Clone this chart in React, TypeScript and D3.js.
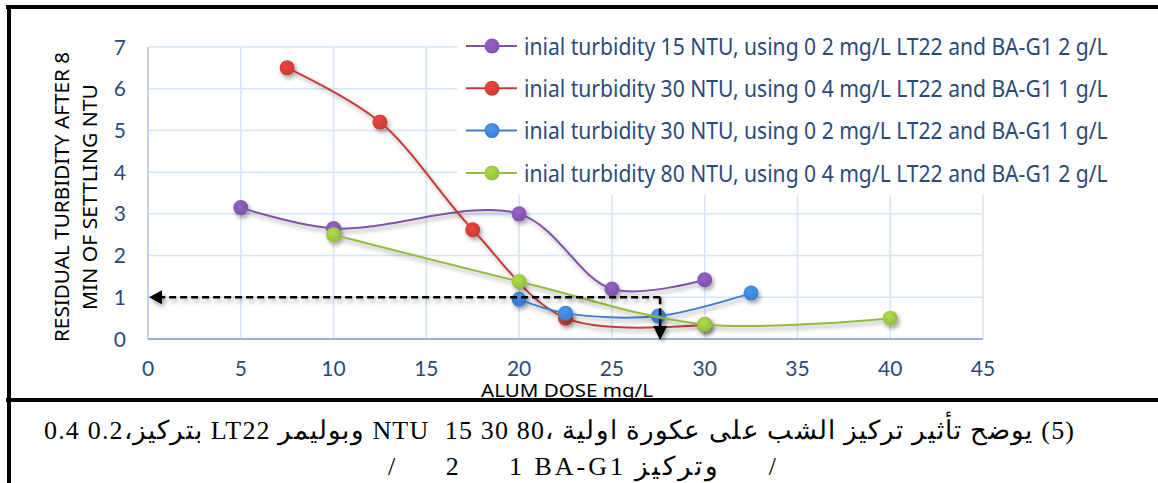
import React, { useRef, useEffect } from 'react';
import * as d3 from 'd3';

// chart values
const xTicks = [0, 5, 10, 15, 20, 25, 30, 35, 40, 45];
const yTicks = [0, 1, 2, 3, 4, 5, 6, 7];

const seriesNames = [
  'inial turbidity 15 NTU, using 0 2 mg/L LT22 and BA-G1 2 g/L',
  'inial turbidity 30 NTU, using 0 4 mg/L LT22 and BA-G1 1 g/L',
  'inial turbidity 30 NTU, using 0 2 mg/L LT22 and BA-G1 1 g/L',
  'inial turbidity 80 NTU, using 0 4 mg/L LT22 and BA-G1 2 g/L',
];
const seriesColors = ['#7F52A8', '#C83A35', '#3E7ECB', '#92BC3F'];

const purpleX = [5, 10, 20, 25, 30];
const purpleY = [3.15, 2.65, 3.0, 1.2, 1.42];
const redX = [7.5, 12.5, 17.5, 22.5, 30];
const redY = [6.5, 5.2, 2.62, 0.5, 0.35];
const blueX = [20, 22.5, 27.5, 32.5];
const blueY = [0.95, 0.62, 0.55, 1.1];
const greenX = [10, 20, 30, 40];
const greenY = [2.5, 1.38, 0.35, 0.5];

// dashed read-off arrows
const targetDose = 27.6;
const targetTurbidity = 1;

const yTitle = ['RESIDUAL TURBIDITY  AFTER 8', 'MIN OF SETTLING NTU'];
const xTitle = 'ALUM DOSE mg/L';
const caption1 = '(5) يوضح تأثير تركيز الشب على عكورة اولية ،80 30 15  NTU وبوليمر LT22 بتركيز،0.2 0.4';
const caption2 = '/     2     1 BA-G1 وتركيز     /';

// squeeze a text horizontally so it spans `w` px, keeping glyph height
const fitWidth = (sel: d3.Selection<SVGTextElement, unknown, null, undefined>, w: number) => {
  const n = sel.node();
  if (!n) return;
  const len = n.getComputedTextLength();
  if (len > 0) sel.attr('transform', `${sel.attr('transform') || ''} scale(${w / len},1)`);
};

const App: React.FC = () => {
  const width = 1158;
  const height = 483;
  const svgRef = useRef<SVGSVGElement>(null);

  useEffect(() => {
    if (!svgRef.current) return;
    const svg = d3.select(svgRef.current);
    svg.selectAll('*').remove();

    const x = d3.scaleLinear().domain([0, 45]).range([148, 983]);
    const y = d3.scaleLinear().domain([0, 7]).range([339, 47]);
    const tickColor = '#2C4A78';
    const sans = 'Lato, "Open Sans", sans-serif';
    const tall = '"Noto Sans", "Open Sans", sans-serif';
    const serif = '"Liberation Serif", "Times New Roman", serif';

    const defs = svg.append('defs');
    const f = defs.append('filter').attr('id', 'shadow')
      .attr('x', '-50%').attr('y', '-50%').attr('width', '200%').attr('height', '200%');
    f.append('feDropShadow').attr('dx', 2).attr('dy', 3).attr('stdDeviation', 2)
      .attr('flood-color', '#000').attr('flood-opacity', 0.35);

    seriesColors.forEach((c, i) => {
      const g = defs.append('radialGradient').attr('id', `mk${i}`)
        .attr('cx', '40%').attr('cy', '35%').attr('r', '65%');
      g.append('stop').attr('offset', '0%').attr('stop-color', d3.color(c)!.brighter(0.5).toString());
      g.append('stop').attr('offset', '100%').attr('stop-color', c);
    });

    // frame
    const frame = svg.append('g').attr('stroke', '#000').attr('stroke-width', 4);
    frame.append('line').attr('x1', 6).attr('x2', width).attr('y1', 7).attr('y2', 7);
    frame.append('line').attr('x1', 6).attr('x2', width).attr('y1', 400).attr('y2', 400);
    frame.append('line').attr('x1', 9).attr('x2', 9).attr('y1', 5).attr('y2', height);

    // grid
    const grid = svg.append('g').attr('stroke', '#D7E4F4').attr('stroke-width', 1.5);
    grid.selectAll('line.v').data(xTicks.slice(1)).enter().append('line')
      .attr('x1', d => x(d)).attr('x2', d => x(d)).attr('y1', y(7)).attr('y2', y(0));
    grid.selectAll('line.h').data(yTicks.slice(1)).enter().append('line')
      .attr('x1', x(0)).attr('x2', x(45)).attr('y1', d => y(d)).attr('y2', d => y(d));
    svg.append('line').attr('x1', x(0)).attr('x2', x(0)).attr('y1', y(7)).attr('y2', y(0))
      .attr('stroke', '#A9C6EA').attr('stroke-width', 1.5);
    svg.append('line').attr('x1', x(0)).attr('x2', x(45)).attr('y1', y(0)).attr('y2', y(0))
      .attr('stroke', '#93B3DF').attr('stroke-width', 2);

    // tick labels
    svg.append('g').selectAll('text').data(yTicks).enter().append('text')
      .attr('x', 126).attr('y', d => y(d)).attr('dy', '0.36em')
      .attr('text-anchor', 'end').attr('fill', tickColor)
      .style('font-family', sans).style('font-size', '21px')
      .text(d => d);
    svg.append('g').selectAll('text').data(xTicks).enter().append('text')
      .attr('x', d => x(d)).attr('y', 368).attr('dy', '0.36em')
      .attr('text-anchor', 'middle').attr('fill', tickColor)
      .style('font-family', sans).style('font-size', '21px')
      .text(d => d);

    // axis titles
    yTitle.forEach((t, i) => {
      svg.append('text')
        .attr('transform', `translate(${62 + i * 28},197) rotate(-90)`)
        .attr('dy', '0.36em').attr('text-anchor', 'middle').attr('fill', '#000')
        .attr('textLength', i === 0 ? 290 : 226).attr('lengthAdjust', 'spacingAndGlyphs')
        .style('font-family', tall).style('font-size', '19px')
        .text(t);
    });
    const xt = svg.append('text')
      .attr('transform', 'translate(567,390)')
      .attr('dy', '0.36em').attr('text-anchor', 'middle').attr('fill', '#000')
      .style('font-family', tall).style('font-size', '19px')
      .text(xTitle);
    fitWidth(xt, 172);

    // legend backdrop
    svg.append('rect').attr('x', 457).attr('y', 26).attr('width', 665).attr('height', 169).attr('fill', '#fff');

    // series
    const xs = [purpleX, redX, blueX, greenX];
    const ys = [purpleY, redY, blueY, greenY];
    const line = d3.line<[number, number]>()
      .x(d => x(d[0])).y(d => y(d[1]))
      .curve(d3.curveCatmullRom.alpha(0.5));

    xs.forEach((sx, i) => {
      const pts: [number, number][] = sx.map((v, j) => [v, ys[i][j]]);
      const g = svg.append('g').attr('filter', 'url(#shadow)');
      g.append('path').attr('d', line(pts)).attr('fill', 'none')
        .attr('stroke', seriesColors[i]).attr('stroke-width', 2);
      g.selectAll('circle').data(pts).enter().append('circle')
        .attr('cx', d => x(d[0])).attr('cy', d => y(d[1])).attr('r', 7.5)
        .attr('fill', `url(#mk${i})`);
    });

    // legend
    const legend = svg.append('g');
    seriesNames.forEach((name, i) => {
      const ly = 46 + i * 42.3;
      const row = legend.append('g');
      row.append('line').attr('x1', 466).attr('x2', 517).attr('y1', ly).attr('y2', ly)
        .attr('stroke', seriesColors[i]).attr('stroke-width', 2);
      row.append('circle').attr('cx', 492).attr('cy', ly).attr('r', 7.5)
        .attr('fill', `url(#mk${i})`);
      const t = row.append('text').attr('transform', `translate(524,${ly})`).attr('dy', '0.36em')
        .attr('fill', tickColor)
        .style('font-family', tall).style('font-size', '24px')
        .text(name);
      fitWidth(t, 584);
    });

    // dashed read-off arrows
    const ax = x(targetDose);
    const ay = y(targetTurbidity);
    const arrows = svg.append('g').attr('filter', 'url(#shadow)');
    arrows.append('path')
      .attr('d', `M${ax},${ay}H${x(0) + 12}M${ax},${ay}V${y(0) - 12}`)
      .attr('fill', 'none').attr('stroke', '#000').attr('stroke-width', 2.5)
      .attr('stroke-dasharray', '7,4');
    arrows.append('path')
      .attr('d', `M${x(0) + 1},${ay}l13,-7v14z`).attr('fill', '#000');
    arrows.append('path')
      .attr('d', `M${ax},${y(0) + 1}l-7,-14h14z`).attr('fill', '#000');

    // caption
    svg.append('text').attr('x', 559).attr('y', 439)
      .attr('text-anchor', 'middle').attr('direction', 'rtl').attr('fill', '#000')
      .attr('textLength', 1030).attr('lengthAdjust', 'spacing')
      .style('font-family', serif).style('font-size', '26px').style('white-space', 'pre')
      .text(caption1);
    svg.append('text').attr('x', 582).attr('y', 475)
      .attr('text-anchor', 'middle').attr('direction', 'ltr').attr('fill', '#000')
      .attr('textLength', 388).attr('lengthAdjust', 'spacing')
      .style('font-family', serif).style('font-size', '26px').style('white-space', 'pre')
      .text(caption2);
  }, []);

  return (
    <svg ref={svgRef} width={width} height={height}
      style={{ position: 'absolute', left: 0, top: 0, background: '#fff', display: 'block' }} />
  );
};

export default App;
